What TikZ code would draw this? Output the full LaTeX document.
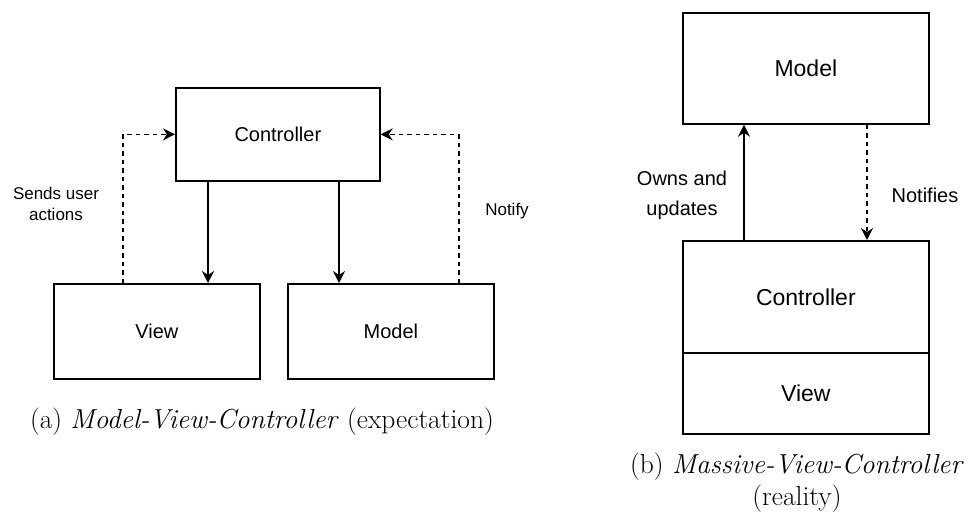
\documentclass[tikz,border=0pt]{standalone}
\usepackage{fontspec}
\newfontfamily\hel{Liberation Sans}
\usetikzlibrary{arrows.meta,calc}
\begin{document}
\begin{tikzpicture}[x=1pt,y=-1pt,
  box/.style={draw,line width=1.7pt,inner sep=0pt,anchor=north west,font=\hel\fontsize{20}{24}\selectfont},
  conn/.style={line width=1.6pt,-{Stealth[length=12pt,width=12pt]}},
  dconn/.style={conn,dash pattern=on 4.5pt off 4pt},
  lbl/.style={font=\hel\fontsize{17}{21}\selectfont,align=center},
  captxt/.style={font=\fontsize{27.5}{32}\selectfont,align=center}]
\useasboundingbox (0,0) rectangle (968,514);
% left diagram
\node[box,minimum width=204pt,minimum height=93pt] (ctrl) at (175,87) {Controller};
\node[box,minimum width=206pt,minimum height=95pt] (view) at (53,283) {View};
\node[box,minimum width=206pt,minimum height=95pt] (model) at (287,283) {Model};
\draw[conn] ([xshift=33pt]ctrl.south west) -- ([xshift=33pt]ctrl.south west |- view.north);
\draw[conn] ([xshift=164pt]ctrl.south west) -- ([xshift=164pt]ctrl.south west |- model.north);
\draw[dconn] ([xshift=70pt]view.north west) |- (ctrl.west);
\draw[dconn] ([xshift=-36pt]model.north east) |- (ctrl.east);
\node[lbl] (l1) at (56,204) {Sends user\\actions};
\node[lbl] (l2) at (507,211) {Notify};
\node[captxt] (capa) at (262,422) {(a) \textit{Model-View-Controller} (expectation)};
% right diagram
\node[box,minimum width=246pt,minimum height=111pt,font=\hel\fontsize{23}{27}\selectfont] (model2) at (682,12) {Model};
\node[box,minimum width=246pt,minimum height=112pt,font=\hel\fontsize{23}{27}\selectfont] (ctrl2) at (682,240) {Controller};
\node[box,minimum width=246pt,minimum height=81pt,font=\hel\fontsize{23}{27}\selectfont] (view2) at (682,352) {View};
\draw[conn] ([xshift=62pt]ctrl2.north west) -- ([xshift=62pt]ctrl2.north west |- model2.south);
\draw[dconn] ([xshift=185pt]model2.south west) -- ([xshift=185pt]model2.south west |- ctrl2.north);
\node[lbl,font=\hel\fontsize{20}{30}\selectfont] (l3) at (682,195) {Owns and\\updates};
\node[lbl,font=\hel\fontsize{20}{24}\selectfont] (l4) at (925,195) {Notifies};
\node[captxt] (capb) at (797,483) {(b) \textit{Massive-View-Controller}\\(reality)};
\end{tikzpicture}
\end{document}
